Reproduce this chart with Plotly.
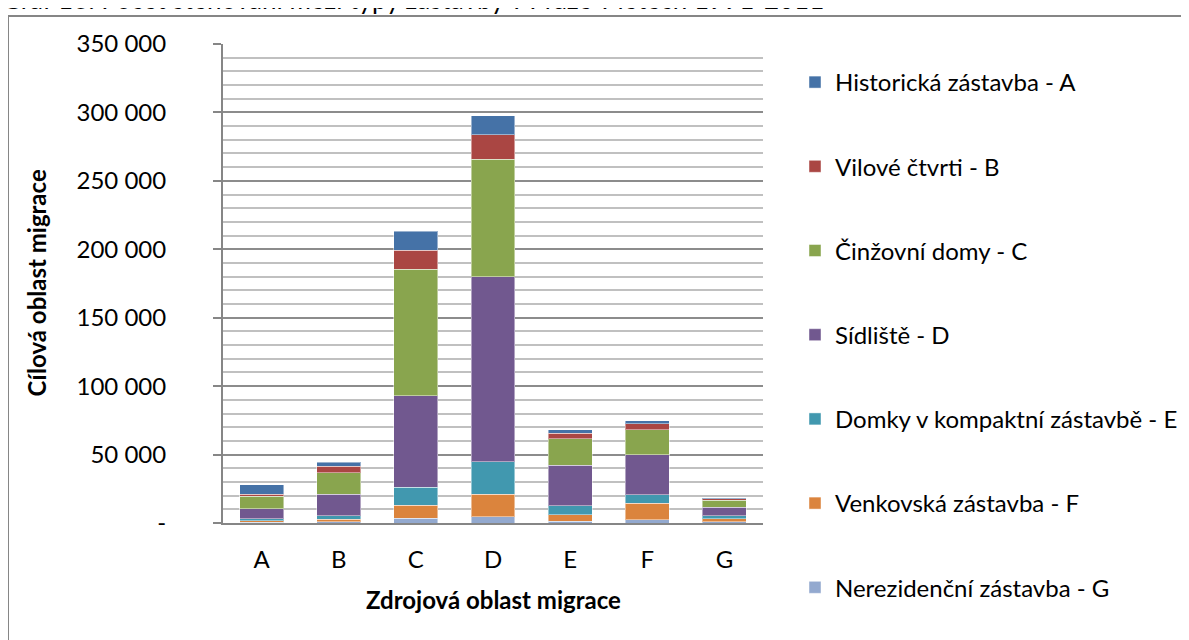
import plotly.graph_objects as go

# source area of migration (x axis)
sources = ["A", "B", "C", "D", "E", "F", "G"]

# target area of migration (stacked series), values per source area
historicka_a = [6800, 2900, 13900, 13900, 2400, 2400, 700]
vilove_b = [1750, 4900, 13900, 18000, 4200, 4200, 1250]
cinzovni_c = [9000, 15800, 92400, 85900, 19500, 18300, 5100]
sidliste_d = [7300, 15500, 66900, 135000, 29400, 29200, 6300]
domky_e = [1450, 2700, 13100, 23900, 6800, 6100, 2000]
venkovska_f = [950, 1700, 9500, 16500, 4400, 12400, 2200]
nerezidencni_g = [700, 950, 3650, 4400, 1450, 2200, 950]

# stacking order: first trace sits at the bottom
series = [
    ("Nerezidenční zástavba - G", nerezidencni_g, "#93A9CF", 7),
    ("Venkovská zástavba - F", venkovska_f, "#DB843D", 6),
    ("Domky v kompaktní zástavbě - E", domky_e, "#4198AF", 5),
    ("Sídliště - D", sidliste_d, "#71588F", 4),
    ("Činžovní domy - C", cinzovni_c, "#89A54E", 3),
    ("Vilové čtvrti - B", vilove_b, "#AA4643", 2),
    ("Historická zástavba - A", historicka_a, "#4572A7", 1),
]

FONT = "Lato"
# page body has an 8px margin, so work in shifted pixel coords
OFF = 8
W, H = 1189 - OFF, 640 - OFF
px_left, px_right, px_top, px_bottom = 223 - OFF, 763 - OFF, 44 - OFF, 523 - OFF
plot_w, plot_h = px_right - px_left, px_bottom - px_top


def px_x(x):
    return (x - OFF - px_left) / plot_w


def px_y(y):
    return (px_bottom - (y - OFF)) / plot_h


fig = go.Figure()
for name, vals, color, rank in series:
    fig.add_trace(go.Bar(
        x=sources, y=vals, name=name, legendgroup=name, legendrank=rank,
        marker=dict(color=color, line=dict(color="rgba(255,255,255,0.45)", width=1)),
    ))

fig.update_layout(
    width=W, height=H,
    barmode="stack", bargap=0.43,
    plot_bgcolor="white", paper_bgcolor="white",
    margin=dict(l=px_left, r=W - px_right, t=px_top, b=H - px_bottom),
    font=dict(family=FONT, size=24, color="black"),
    showlegend=True,
    legend=dict(
        traceorder="grouped", tracegroupgap=50, maxheight=H,
        xref="container", yref="container",
        x=(795 - OFF) / W, y=1 - (60 - OFF) / H, xanchor="left", yanchor="top",
        font=dict(size=24), bgcolor="rgba(0,0,0,0)",
    ),
    xaxis=dict(
        showline=True, linecolor="#868686", linewidth=2,
        ticks="", ticklabelstandoff=14, showgrid=False,
    ),
    yaxis=dict(
        range=[0, 350000], tickvals=[0, 50000, 100000, 150000, 200000, 250000, 300000, 350000],
        ticktext=["-", "50 000", "100 000", "150 000", "200 000", "250 000", "300 000", "350 000"],
        showline=True, linecolor="#868686", linewidth=2,
        ticks="outside", ticklen=8, tickcolor="#868686", tickwidth=2,
        ticklabelstandoff=42,
        showgrid=True, gridcolor="#8c8c8c", gridwidth=2,
        minor=dict(dtick=10000, showgrid=True, gridcolor="#c0c0c0", gridwidth=2, ticks=""),
        zeroline=False,
    ),
    annotations=[
        dict(text="Graf 13: Počet stěhování mezi typy zástavby v Praze v letech 1991-2011",
             xref="paper", yref="paper", x=px_x(0), y=px_y(-1),
             xanchor="left", yanchor="middle", showarrow=False, font=dict(size=26)),
        dict(text="<b>Cílová oblast migrace</b>", textangle=-90,
             xref="paper", yref="paper", x=px_x(36), y=0.5,
             xanchor="center", yanchor="middle", showarrow=False, font=dict(size=24)),
        dict(text="<b>Zdrojová oblast migrace</b>",
             xref="paper", yref="paper", x=0.5, y=px_y(599),
             xanchor="center", yanchor="middle", showarrow=False, font=dict(size=24)),
    ],
    shapes=[
        dict(type="rect", xref="paper", yref="paper",
             x0=px_x(8), x1=px_x(1182), y0=px_y(680), y1=px_y(16),
             line=dict(color="#868686", width=2), fillcolor="rgba(0,0,0,0)", layer="below"),
    ],
)

fig.write_html("out.html")
